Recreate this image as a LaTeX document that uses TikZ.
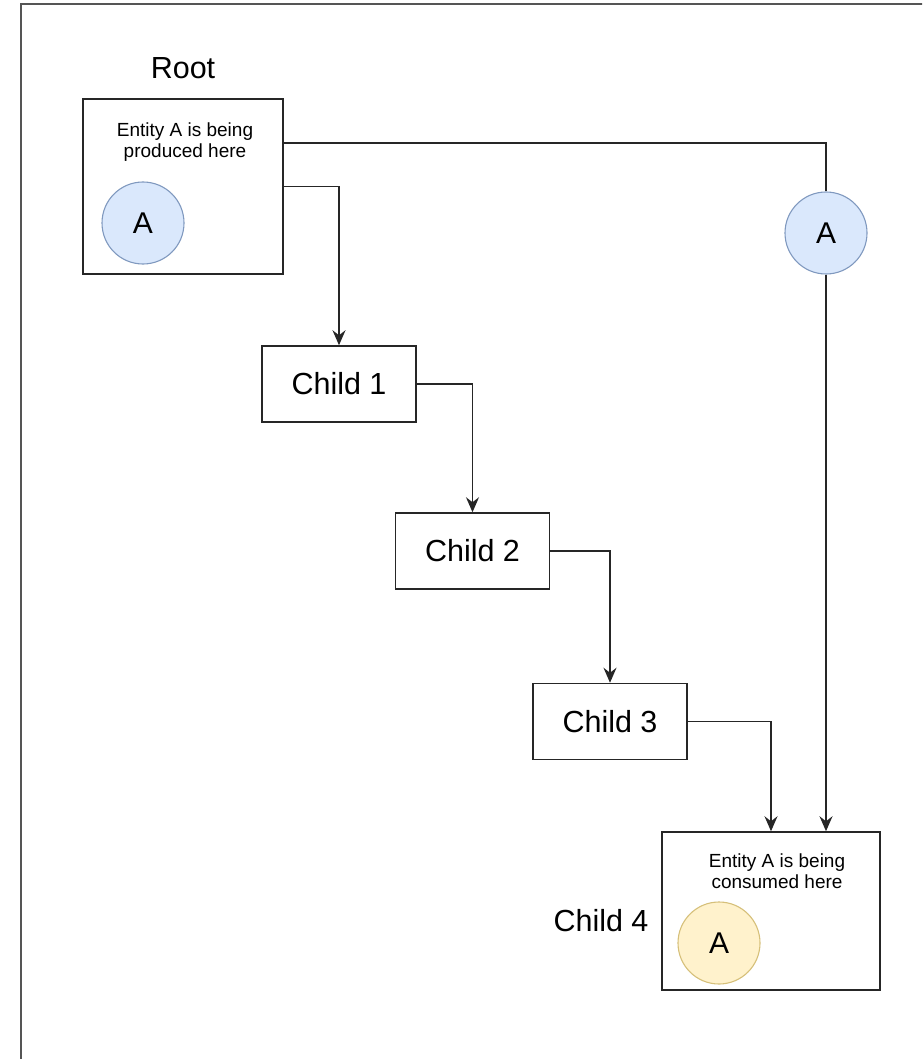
\documentclass[tikz,border=0pt]{standalone}
\usepackage{fontspec}
\setmainfont{Liberation Sans}
\usetikzlibrary{arrows.meta}
\definecolor{bluefill}{HTML}{DAE8FC}
\definecolor{blueline}{HTML}{8099BF}
\definecolor{yelfill}{HTML}{FFF2CC}
\definecolor{yelline}{HTML}{D6C07A}
\definecolor{frameline}{HTML}{555555}
\begin{document}
\begin{tikzpicture}[x=1pt,y=-1pt,
  box/.style={draw=black!85,line width=1.5pt,fill=white,inner sep=0pt},
  bigbox/.style={box,minimum width=200pt,minimum height=175pt},
  childbox/.style={box,minimum width=154pt,minimum height=76pt,font=\fontsize{30.5}{35}\selectfont},
  ent/.style={draw=blueline,line width=1.1pt,fill=bluefill,circle,minimum size=82pt,inner sep=0pt,font=\fontsize{30}{34}\selectfont},
  entyel/.style={ent,draw=yelline,fill=yelfill},
  smalltxt/.style={align=center,font=\fontsize{19}{21.5}\selectfont,inner sep=0pt},
  lbl/.style={font=\fontsize{30.5}{35}\selectfont,inner sep=0pt},
  conn/.style={line width=1.5pt,draw=black!85},
  arr/.style={conn,-{Stealth[length=15pt,width=13pt,inset=5pt]}}
]
\useasboundingbox (0,0) rectangle (922,1059);
\begin{scope}
\clip (0,0) rectangle (922,1059);
\draw[frameline,line width=2pt] (20.5,1070) -- (20.5,4.5) -- (940,4.5);
\end{scope}

% Root
\node[lbl] (rootlbl) at (183,68) {Root};
\node[bigbox] (root) at (183,186.5) {};
\node[smalltxt] (roottxt) at (185,142) {Entity A is being\\produced here};
\node[ent] (ca1) at (143,223) {A};

% children
\node[childbox] (c1) at (339,384) {Child 1};
\node[childbox] (c2) at (472.5,551) {Child 2};
\node[childbox] (c3) at (610,721.5) {Child 3};

% Child 4
\node[bigbox,minimum width=218pt,minimum height=158pt] (c4) at (771,911) {};
\node[smalltxt] (c4txt) at (777,871) {Entity A is being\\consumed here};
\node[entyel] (ca3) at (719,943) {A};
\node[lbl] (c4lbl) at (601,921) {Child 4};

% travelling entity
\node[ent] (ca2) at (826,233) {A};

% connectors
\draw[conn] ([yshift=43.5pt]root.east) -| (ca2.north);
\draw[arr] (ca2.south) -- (ca2.south |- c4.north);
\draw[arr] (root.east) -| (c1.north);
\draw[arr] (c1.east) -| (c2.north);
\draw[arr] (c2.east) -| (c3.north);
\draw[arr] (c3.east) -| (c4.north);
\end{tikzpicture}
\end{document}
